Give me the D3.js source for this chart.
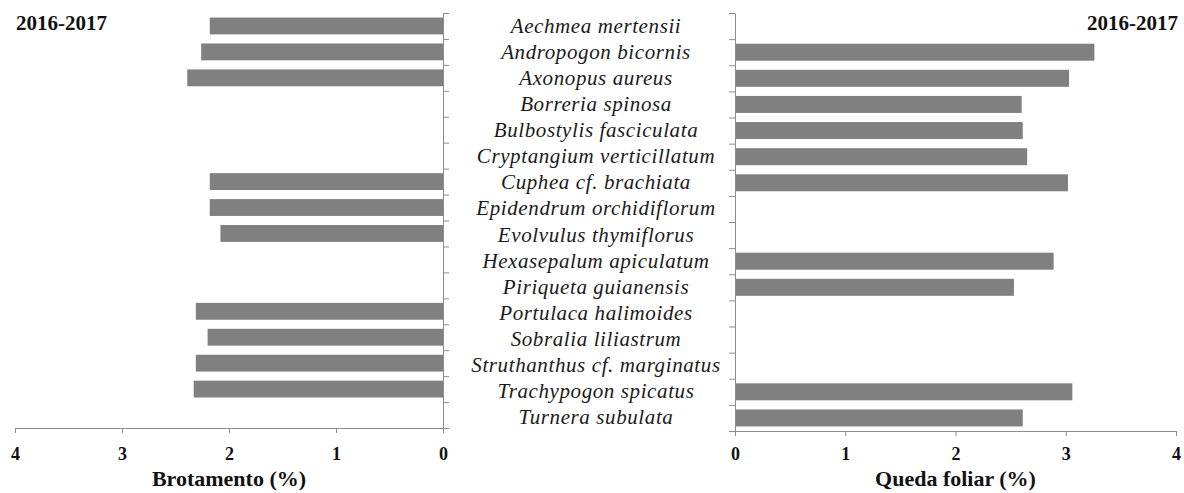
<!DOCTYPE html>
<html>
<head>
<meta charset="utf-8">
<script src="https://cdn.jsdelivr.net/npm/d3@7"></script>
<style>
  html, body { margin: 0; padding: 0; background: #fff; }
  svg { display: block; }
</style>
</head>
<body>
<svg id="chart" width="1184" height="493"></svg>
<script>
const species = [
  "Aechmea mertensii", "Andropogon bicornis", "Axonopus aureus", "Borreria spinosa",
  "Bulbostylis fasciculata", "Cryptangium verticillatum", "Cuphea cf. brachiata",
  "Epidendrum orchidiflorum", "Evolvulus thymiflorus", "Hexasepalum apiculatum",
  "Piriqueta guianensis", "Portulaca halimoides", "Sobralia liliastrum",
  "Struthanthus cf. marginatus", "Trachypogon spicatus", "Turnera subulata"
];
const brotamento = [2.18, 2.26, 2.39, null, null, null, 2.18, 2.18, 2.08, null, null, 2.31, 2.20, 2.31, 2.33, null];
const quedaFoliar = [null, 3.26, 3.03, 2.60, 2.61, 2.65, 3.02, null, null, 2.89, 2.53, null, null, null, 3.06, 2.61];
const xTicks = [0, 1, 2, 3, 4];
const periodLabel = "2016-2017";
const leftTitle = "Brotamento (%)";
const rightTitle = "Queda foliar (%)";

const svg = d3.select("#chart");
const axisColor = "#8c8c8c";
const barColor = "#808080";
const serif = "'Liberation Serif', 'Times New Roman', serif";

function panel(opts) {
  const { values, xRange, yTop, yBottom, axisX, tickDir, title } = opts;
  const x = d3.scaleLinear().domain([0, 4]).range(xRange);
  const y = d3.scaleBand().domain(species).range([yTop, yBottom]).paddingInner(0.35).paddingOuter(0.175);
  const g = svg.append("g");

  // bars
  const data = species.map((s, i) => ({ s, v: values[i] })).filter(d => d.v != null);
  g.selectAll("rect").data(data).join("rect")
    .attr("x", d => Math.min(x(0), x(d.v)))
    .attr("width", d => Math.abs(x(d.v) - x(0)))
    .attr("y", d => y(d.s))
    .attr("height", y.bandwidth())
    .attr("fill", barColor);

  // category boundary ticks (vertical axis)
  const yb = d3.scaleLinear().domain([0, species.length]).range([yTop, yBottom]);
  const yAxis = (tickDir > 0 ? d3.axisRight(yb) : d3.axisLeft(yb))
    .tickValues(d3.range(0, species.length + 1)).tickFormat("").tickSize(6).tickSizeOuter(0);
  const ya = g.append("g").attr("transform", `translate(${axisX},0)`).call(yAxis);
  ya.selectAll("path, line").attr("stroke", axisColor);

  // bottom axis
  const xAxis = d3.axisBottom(x).tickValues(xTicks).tickFormat(d3.format("d")).tickSize(5).tickSizeOuter(0);
  const xa = g.append("g").attr("transform", `translate(0,${yBottom})`).call(xAxis);
  xa.selectAll("path, line").attr("stroke", axisColor);
  xa.selectAll("text")
    .attr("dy", null)
    .attr("y", 460 - yBottom)
    .attr("fill", "#111")
    .style("font-family", serif).style("font-size", "18px").style("font-weight", "bold");

  // axis title
  g.append("text")
    .attr("x", (xRange[0] + xRange[1]) / 2).attr("y", 486)
    .attr("text-anchor", "middle")
    .style("font-family", serif).style("font-size", "22px").style("font-weight", "bold")
    .attr("fill", "#111")
    .text(title);
  return y;
}

panel({ values: brotamento, xRange: [443, 15], yTop: 13, yBottom: 428, axisX: 443, tickDir: 1, title: leftTitle });
panel({ values: quedaFoliar, xRange: [735, 1176], yTop: 13, yBottom: 431, axisX: 735, tickDir: -1, title: rightTitle });

// species labels in the middle
const yl = d3.scaleBand().domain(species).range([13, 430]);
svg.append("g").selectAll("text").data(species).join("text")
  .attr("x", 596)
  .attr("y", d => yl(d) + yl.bandwidth() / 2 + 7)
  .attr("text-anchor", "middle")
  .style("font-family", serif).style("font-size", "21px").style("font-style", "italic")
  .style("letter-spacing", "0.6px")
  .attr("fill", "#1a1a1a")
  .text(d => d);

// period labels
svg.append("text").attr("x", 16).attr("y", 30)
  .style("font-family", serif).style("font-size", "21px").style("font-weight", "bold")
  .attr("fill", "#111").text(periodLabel);
svg.append("text").attr("x", 1178).attr("y", 30).attr("text-anchor", "end")
  .style("font-family", serif).style("font-size", "21px").style("font-weight", "bold")
  .attr("fill", "#111").text(periodLabel);
</script>
</body>
</html>
